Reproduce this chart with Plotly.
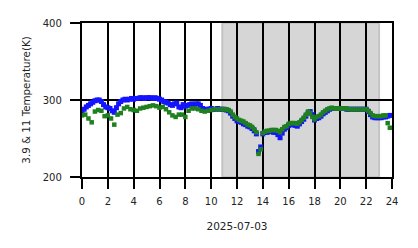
import plotly.graph_objects as go

# ---- data ----
blue_vals = [
    285, 288, 291, 293, 295, 297,
    299, 300, 300, 298, 294, 291,
    290, 289, 286, 284, 290, 295,
    298, 300, 301, 300, 301, 302,
    301, 302, 302, 303, 303, 302,
    303, 303, 303, 302, 303, 302,
    301, 300, 298, 297, 296, 294,
    293, 295, 296, 291, 290, 294,
    292, 293, 294, 295, 294, 295,
    295, 293, 289, 287, 288, 288,
    289, 288, 288, 289, 288, 288,
    288, 287, 286, 283, 279, 276,
    273, 272, 271, 269, 268, 266,
    265, 263, 260, 256, 233, 239,
    256, 258, 258, 259, 259, 258,
    258, 255, 251, 257, 262, 264,
    267, 268, 268, 267, 266, 269,
    272, 275, 279, 283, 285, 281,
    274, 276, 277, 279, 282, 284,
    286, 288, 289, 289, 289, 289,
    289, 289, 289, 288, 288, 288,
    288, 288, 288, 288, 288, 288,
    288, 285, 281, 278, 277, 277,
    277, 277, 278, 278, 279, 280,
]
blue_hours = [i / 6 for i in range(len(blue_vals))]

green_day_vals = [
    280, 281, 276, 271, 285, 287, 286, 279, 280, 276, 268, 281,
    283, 289, 291, 288, 287, 286, 289, 290, 291, 292, 293, 292,
    290, 291, 288, 284, 280, 278, 281, 281, 278, 286, 289, 289,
    288, 286, 285, 286, 287, 288, 288, 288,
]
green_day_hours = [i * 0.25 for i in range(len(green_day_vals))]

green_night_vals = [
    288, 288, 287, 285, 281, 278,
    276, 274, 273, 272, 270, 268,
    267, 265, 262, 258, 230, 236,
    257, 259, 260, 260, 261, 261,
    261, 260, 258, 262, 265, 266,
    269, 270, 270, 270, 269, 271,
    274, 277, 281, 285, 283, 278,
    275, 278, 279, 281, 284, 286,
    288, 289, 290, 289, 289, 289,
    289, 289, 289, 289, 288, 288,
    288, 288, 288, 288, 288, 288,
    288, 286, 283, 280, 279, 279,
    279, 279, 280, 280, 270, 264,
]
green_night_hours = [11 + i / 6 for i in range(len(green_night_vals))]

night_start, night_end = 10.86, 23.0
x_ticks = list(range(0, 25, 2))
y_ticks = [200, 300, 400]

fig = go.Figure()
fig.add_shape(type="rect", xref="x", yref="y", x0=night_start, x1=night_end,
              y0=200, y1=400, fillcolor="#d6d6d6",
              line=dict(color="#c4c4c4", width=2), layer="below")

fig.add_trace(go.Scatter(x=blue_hours, y=blue_vals, mode="markers",
                         marker=dict(symbol="square", size=5, color="#1414ff",
                                     line=dict(width=0)),
                         showlegend=False))
fig.add_trace(go.Scatter(x=green_day_hours + green_night_hours,
                         y=green_day_vals + green_night_vals, mode="markers",
                         marker=dict(symbol="square", size=4.5, color="#1e801e",
                                     line=dict(width=0)),
                         showlegend=False))

axis_common = dict(showgrid=True, gridcolor="black", gridwidth=2.4,
                   showline=True, linecolor="black", linewidth=2.4, mirror=True,
                   ticks="outside", ticklen=10, tickwidth=2.4, tickcolor="black",
                   zeroline=False, tickfont=dict(size=10, color="#222"))

fig.update_xaxes(range=[0, 24], tickvals=x_ticks, ticktext=[str(t) for t in x_ticks],
                 title=dict(text="2025-07-03", font=dict(size=10.5, color="#222"), standoff=16),
                 ticklabelstandoff=4, **axis_common)
fig.update_yaxes(range=[200, 400], tickvals=y_ticks,
                 title=dict(text="3.9 & 11 Temperature(K)", font=dict(size=10.3, color="#222"), standoff=10),
                 ticklabelstandoff=6, **axis_common)

fig.update_layout(width=418, height=248,
                  margin=dict(l=82, r=26, t=23, b=71),
                  plot_bgcolor="white", paper_bgcolor="white",
                  font=dict(family="DejaVu Sans"))

fig.write_html("out.html")
